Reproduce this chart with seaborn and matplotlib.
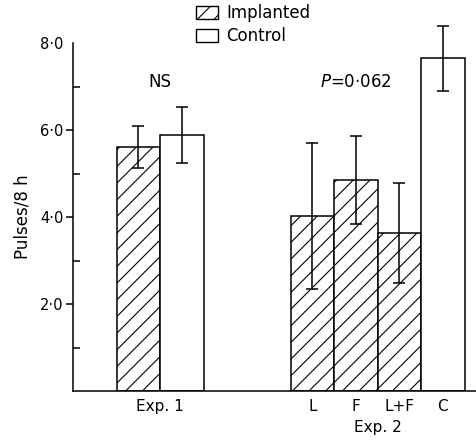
import pandas as pd
import seaborn as sns
import matplotlib.pyplot as plt
from matplotlib.patches import Patch

# bar values (pulses per 8 h, mean +/- error)
labels = ['Exp. 1', 'Exp. 1', 'L', 'F', 'L+F', 'C']
groups = ['Implanted', 'Control', 'Implanted', 'Implanted', 'Implanted', 'Control']
positions = [1.5, 2.5, 5.5, 6.5, 7.5, 8.5]
pulses = [5.61, 5.88, 4.02, 4.85, 3.63, 7.65]
errors = [0.48, 0.65, 1.67, 1.01, 1.15, 0.75]

df = pd.DataFrame({'pos': positions, 'pulses': pulses, 'group': groups})

sns.set_style('ticks')
plt.rcParams['font.family'] = ['DejaVu Sans']
plt.rcParams['hatch.linewidth'] = 0.8
plt.rcParams['text.color'] = 'black'
plt.rcParams['xtick.color'] = 'black'
plt.rcParams['ytick.color'] = 'black'
plt.rcParams['axes.labelcolor'] = 'black'
plt.rcParams['axes.edgecolor'] = 'black'

fig = plt.figure(figsize=(4.76, 4.41), dpi=100)
ax = fig.add_axes([73/476, 1 - 391/441, 1 - 73/476, 348/441])

sns.barplot(data=df, x='pos', y='pulses', hue='group', hue_order=['Implanted', 'Control'],
            native_scale=True, width=1, errorbar=None, palette=['white', 'white'],
            edgecolor='black', linewidth=1.1, legend=False, ax=ax)
for bar in ax.containers[0]:
    bar.set_hatch('//')

ax.errorbar(positions, pulses, yerr=errors, fmt='none', ecolor='black',
            elinewidth=1.1, capsize=4, capthick=1.1, clip_on=False)

ax.set_xlim(0, 403/43.5)
ax.set_ylim(0, 8)
sns.despine(ax=ax, top=True, right=True)
ax.spines['left'].set_linewidth(1.1)
ax.spines['bottom'].set_linewidth(1.1)

ax.set_yticks([2, 4, 6, 8])
ax.set_yticklabels(['2·0', '4·0', '6·0', '8·0'], fontsize=10.5)
ax.set_yticks([1, 3, 5, 7, 8], minor=True)
ax.tick_params(axis='y', which='major', direction='out', length=5, width=1.1, pad=2)
ax.tick_params(axis='y', which='minor', direction='in', length=5, width=1.1)
ax.yaxis.get_major_ticks()[-1].tick1line.set_visible(False)

ax.set_xticks([2.0, 5.5, 6.5, 7.5, 8.5])
ax.set_xticklabels(['Exp. 1', 'L', 'F', 'L+F', 'C'], fontsize=11)
ax.tick_params(axis='x', length=0, pad=6)
ax.set_xlabel('')
ax.text(7.0, -0.85, 'Exp. 2', ha='center', va='center', fontsize=11)

ax.set_ylabel('Pulses/8 h', fontsize=12, labelpad=6)

ax.text(2.0, 7.1, 'NS', ha='center', va='center', fontsize=12)
ax.text(6.5, 7.1, '$P$=0·062', ha='center', va='center', fontsize=12)

handles = [Patch(facecolor='white', edgecolor='black', hatch='//', label='Implanted'),
           Patch(facecolor='white', edgecolor='black', label='Control')]
fig.legend(handles=handles, loc='upper left', bbox_to_anchor=(196/476, 1 - 4/441),
           frameon=False, fontsize=12, handlelength=1.3, handleheight=0.85,
           handletextpad=0.5, borderpad=0, borderaxespad=0, labelspacing=0.3)

fig.savefig('out.png', dpi=100)
